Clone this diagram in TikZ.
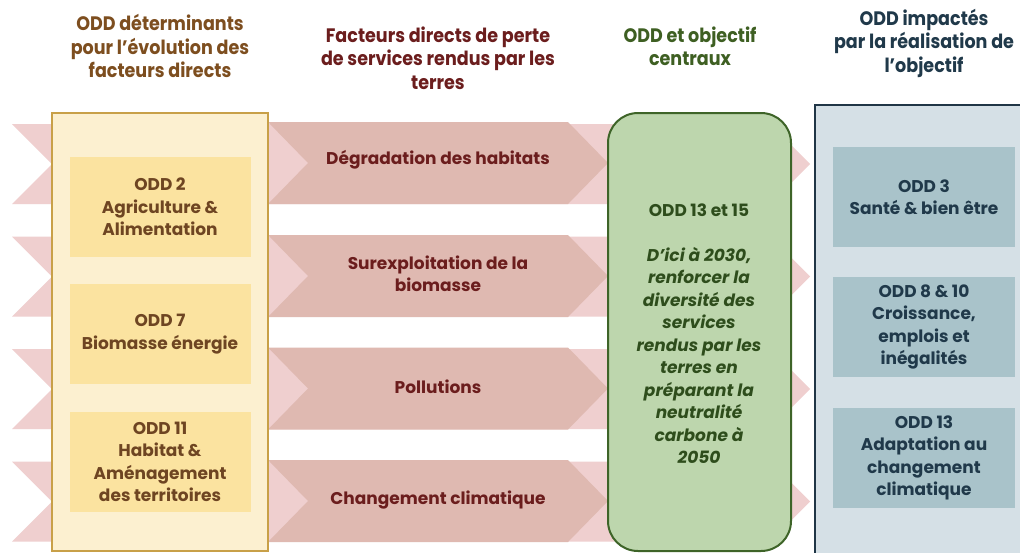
\documentclass[tikz,border=0pt]{standalone}
\usepackage{fontspec}
\setmainfont{Poppins}
\newfontfamily\hdrfont[FakeStretch=0.9]{Poppins}
\definecolor{lpink}{HTML}{EFCFCF}
\definecolor{dpink}{HTML}{DFB9B1}
\definecolor{yfill}{HTML}{FCF0D0}
\definecolor{yinner}{HTML}{FBE3A0}
\definecolor{ybord}{HTML}{C8A048}
\definecolor{ytext}{HTML}{6E4522}
\definecolor{yhead}{HTML}{7D4E1F}
\definecolor{mtext}{HTML}{6B1D1D}
\definecolor{gfill}{HTML}{BDD6AD}
\definecolor{gbord}{HTML}{3E6428}
\definecolor{gtext}{HTML}{2E4D1C}
\definecolor{ghead}{HTML}{3E5F22}
\definecolor{rfill}{HTML}{D5E0E6}
\definecolor{rinner}{HTML}{A9C3CA}
\definecolor{rbord}{HTML}{203646}
\definecolor{rtext}{HTML}{20394A}
\begin{document}
\begin{tikzpicture}[x=1pt,y=-1pt,
  boxtxt/.style={font=\fontsize{17}{22.5}\selectfont\bfseries, align=center, inner sep=0pt},
  hdr/.style={font=\hdrfont\fontsize{19.5}{23.5}\selectfont\bfseries, align=center, inner sep=0pt},
  ybox/.style={boxtxt, fill=yinner, text=ytext, minimum width=181pt, minimum height=100pt},
  rbox/.style={boxtxt, fill=rinner, text=rtext, minimum width=182pt, minimum height=100pt},
  mlabel/.style={boxtxt, text=mtext}]
\useasboundingbox (0,0) rectangle (1020,552);
\clip (0,0) rectangle (1020,552);
\fill[white] (0,0) rectangle (1020,552);
% light background chevrons
\foreach \c in {164,276.5,389,501.5}{
  \fill[lpink] (12,{\c-40}) -- (770,{\c-40}) -- (810,\c) -- (770,{\c+40}) -- (12,{\c+40}) -- (52,\c) -- cycle;
}
% dark chevrons
\foreach \c in {163,276,388.5,501}{
  \fill[dpink] (268,{\c-41}) -- (568,{\c-41}) -- (608,\c) -- (568,{\c+41}) -- (268,{\c+41}) -- (308,\c) -- cycle;
}
% column frames
\draw[draw=rbord, fill=rfill, line width=2pt] (815,105) rectangle (1040,580);
\draw[draw=ybord, fill=yfill, line width=1.5pt] (52,113) rectangle (268,551);
\draw[draw=gbord, fill=gfill, line width=2pt, rounded corners=30pt] (608,113) rectangle (791,551);
% headers
\node[hdr, text=yhead] (h1) at (160,46) {ODD déterminants\\pour l’évolution des\\facteurs directs};
\node[hdr, text=mtext] (h2) at (438,58) {Facteurs directs de perte\\de services rendus par les\\terres};
\node[hdr, text=ghead] (h3) at (690,46.5) {ODD et objectif\\centraux};
\node[hdr, text=rtext] (h4) at (924,43) {ODD impactés\\par la réalisation de\\l’objectif};
% left boxes
\node[ybox] (y1) at (160,207) {ODD 2\\Agriculture \&\\Alimentation};
\node[ybox] (y2) at (160,334) {ODD 7\\Biomasse énergie};
\node[ybox] (y3) at (160,462) {ODD 11\\Habitat \&\\Aménagement\\des territoires};
% middle labels
\node[mlabel] (m1) at (438,160) {Dégradation des habitats};
\node[mlabel] (m2) at (438,274) {Surexploitation de la\\biomasse};
\node[mlabel] (m3) at (438,387) {Pollutions};
\node[mlabel] (m4) at (438,500) {Changement climatique};
% central text
\node[boxtxt, text=gtext] (g) at (699,333.5) {ODD 13 et 15\\[22.5pt]\itshape D’ici à 2030,\\\itshape renforcer la\\\itshape diversité des\\\itshape services\\\itshape rendus par les\\\itshape terres en\\\itshape préparant la\\\itshape neutralité\\\itshape carbone à\\\itshape 2050};
% right boxes
\node[rbox] (r1) at (924,197) {ODD 3\\Santé \& bien être};
\node[rbox] (r2) at (924,327) {ODD 8 \& 10\\Croissance,\\emplois et\\inégalités};
\node[rbox] (r3) at (924,458) {ODD 13\\Adaptation au\\changement\\climatique};
\end{tikzpicture}
\end{document}
